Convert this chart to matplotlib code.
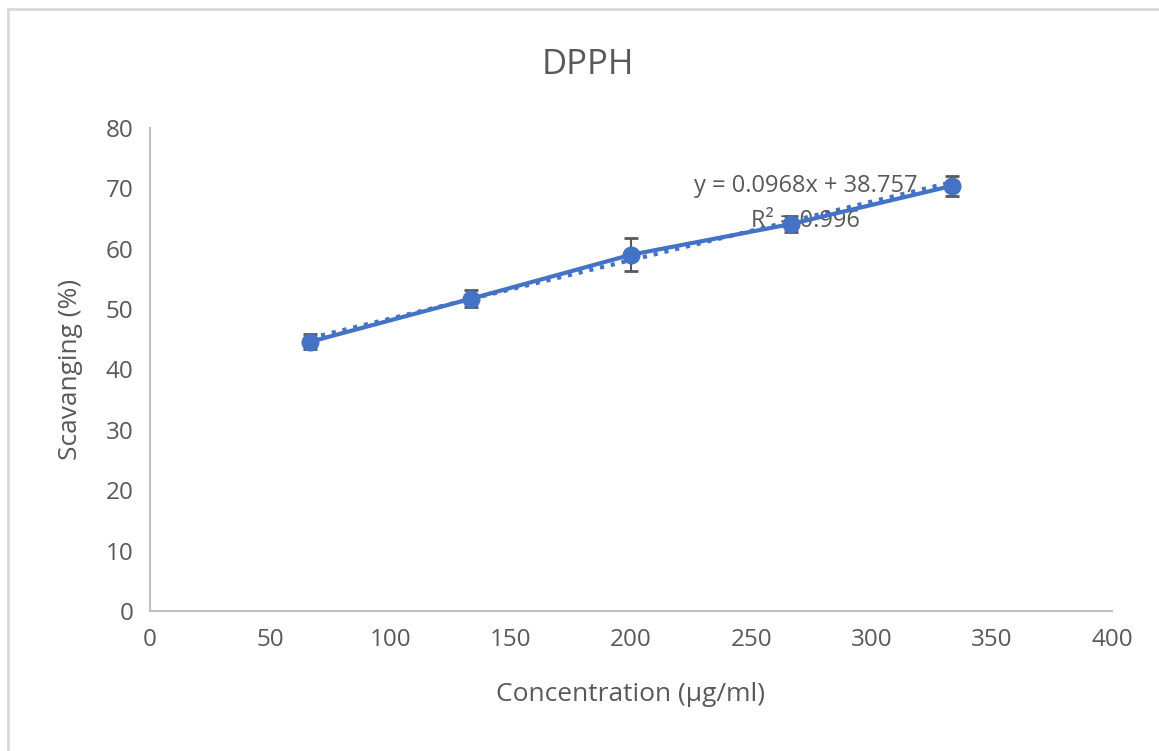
import numpy as np
from matplotlib import pyplot as plt
from matplotlib.patches import Rectangle

# data
conc = [66.67, 133.33, 200.0, 266.67, 333.33]
scav = [44.6, 51.7, 59.0, 64.1, 70.4]
err = [1.2, 1.4, 2.7, 1.3, 1.7]
slope, intercept = 0.0968, 38.757
x_ticks = [0, 50, 100, 150, 200, 250, 300, 350, 400]
y_ticks = [0, 10, 20, 30, 40, 50, 60, 70, 80]

plt.rcParams['font.family'] = ['Open Sans', 'DejaVu Sans']
grey = '#595959'
blue = '#4472C4'

fig = plt.figure(figsize=[11.59, 7.51], dpi=100)
ax = fig.add_axes([0.1294, 0.1864, 0.8300, 0.6432])

# chart border, right/bottom run off the canvas
fig.patches.append(Rectangle((8 / 1159, -0.1), 1.2, 1.1 - 9 / 751, transform=fig.transFigure,
                             fill=False, edgecolor='#d9d9d9', lw=2))

trend_x = np.array([conc[0], conc[-1]])
ax.plot(trend_x, slope * trend_x + intercept, ':', color=blue, lw=3, zorder=2)
ax.errorbar(conc, scav, yerr=err, fmt='-o', color=blue, lw=3, ms=12,
            ecolor=grey, elinewidth=1.5, capsize=5, capthick=2, zorder=3)

ax.text(272.5, 70.4, 'y = 0.0968x + 38.757', ha='center', va='center', fontsize=17, color=grey)
ax.text(272.5, 64.6, 'R² = 0.996', ha='center', va='center', fontsize=17, color=grey)

ax.set_xlim(0, 400)
ax.set_ylim(0, 80)
ax.set_xticks(x_ticks)
ax.set_yticks(y_ticks)
ax.tick_params(length=0, labelsize=17.5, labelcolor=grey, pad=12)
for side in ['top', 'right']:
    ax.spines[side].set_visible(False)
for side in ['left', 'bottom']:
    ax.spines[side].set_color('#bfbfbf')
    ax.spines[side].set_linewidth(1.5)

fig.text(588 / 1159, 1 - 65 / 751, 'DPPH', ha='center', va='center', fontsize=25, color=grey)
ax.set_xlabel('Concentration (µg/ml)', fontsize=19, color=grey, labelpad=22)
ax.set_ylabel('Scavanging (%)', fontsize=19, color=grey, labelpad=16)

fig.savefig('out.png', dpi=100)
